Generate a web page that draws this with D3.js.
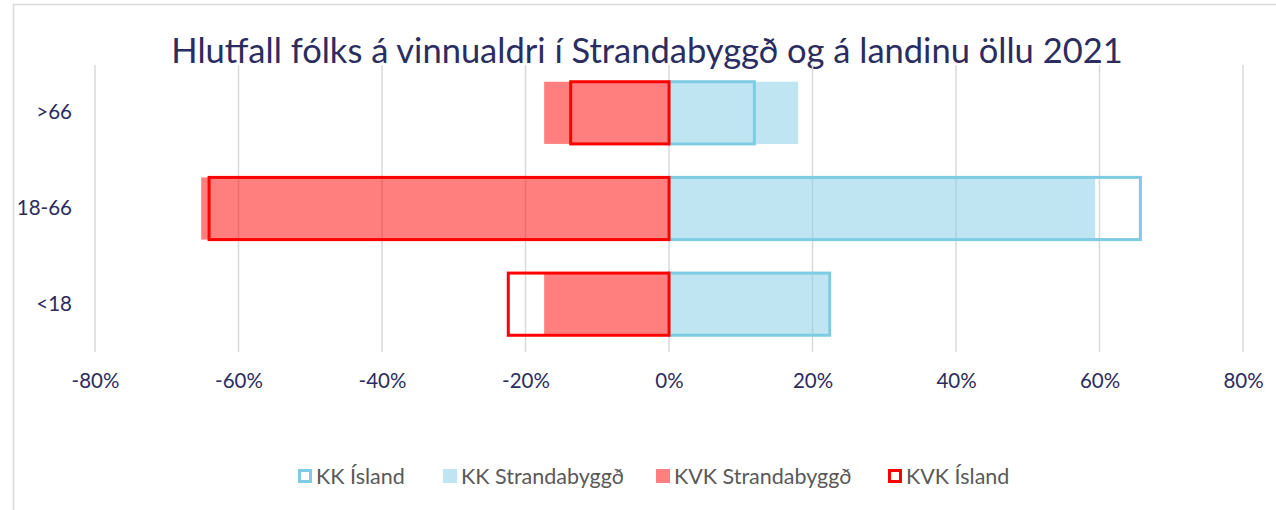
<!DOCTYPE html>
<html>
<head>
<meta charset="utf-8">
<script src="https://cdn.jsdelivr.net/npm/d3@7"></script>
<style>
  body { margin: 0; background: #fff; }
  svg { display: block; font-family: Lato, "Open Sans", sans-serif; }
</style>
</head>
<body>
<svg id="chart"></svg>
<script>
// age groups, top to bottom
const categories = [">66", "18-66", "<18"];
// shares, women negative so they go left
const kkIsland = [0.119, 0.657, 0.224];
const kkStrand = [0.180, 0.594, 0.223];
const kvkStrand = [-0.174, -0.652, -0.174];
const kvkIsland = [-0.137, -0.641, -0.224];
const tickValues = [-0.8, -0.6, -0.4, -0.2, 0, 0.2, 0.4, 0.6, 0.8];
const seriesNames = ["KK Ísland", "KK Strandabyggð", "KVK Strandabyggð", "KVK Ísland"];

const svgWidth = 1276, svgHeight = 510;
const margin = {top: 65, right: 33, bottom: 158, left: 95},
    width = svgWidth - margin.left - margin.right,
    height = svgHeight - margin.top - margin.bottom;

const blue = "#7ECCE3", red = "#FF0000";
const navy = "#2B2C60";

const chart = d3.select("#chart")
    .attr("width", svgWidth)
    .attr("height", svgHeight);

// chart frame
chart.append("rect")
    .attr("x", 13.5).attr("y", 4.5)
    .attr("width", svgWidth + 20).attr("height", svgHeight + 20)
    .attr("fill", "none")
    .attr("stroke", "#D9D9D9")
    .attr("stroke-width", 1.5);

chart.append("text")
    .attr("x", 647)
    .attr("y", 63)
    .attr("text-anchor", "middle")
    .attr("fill", navy)
    .style("font-size", "34.5px")
    .text("Hlutfall fólks á vinnualdri í Strandabyggð og á landinu öllu 2021");

const g = chart.append("g")
    .attr("transform", `translate(${margin.left},${margin.top})`);

const x = d3.scaleLinear().domain([-0.8, 0.8]).range([0, width]);
const y = d3.scaleBand().domain(categories).range([0, height])
    .paddingInner(0.35).paddingOuter(0.175);

// gridlines
g.append("g").selectAll("line")
    .data(tickValues)
    .enter().append("line")
    .attr("x1", d => x(d)).attr("x2", d => x(d))
    .attr("y1", 0).attr("y2", height)
    .attr("stroke", "#D9D9D9")
    .attr("stroke-width", 1.5);

const xAxis = d3.axisBottom(x).tickValues(tickValues)
    .tickFormat(d3.format(".0%")).tickSize(0).tickPadding(21);
const ax = g.append("g")
    .attr("transform", `translate(0,${height})`)
    .call(xAxis);
ax.select(".domain").remove();
ax.selectAll("text")
    .attr("fill", navy)
    .style("font-size", "20.5px")
    .style("font-family", "Lato, sans-serif")
    .text(d => d3.format(".0%")(d).replace("−", "-"));

const yAxis = d3.axisLeft(y).tickSize(0).tickPadding(23);
const ay = g.append("g").call(yAxis);
ay.select(".domain").remove();
ay.selectAll("text")
    .attr("fill", navy)
    .style("font-size", "20.5px")
    .style("font-family", "Lato, sans-serif");

function barX(v) { return Math.min(x(0), x(v)); }
function barW(v) { return Math.abs(x(v) - x(0)); }

// filled Strandabyggð bars
[[kkStrand, blue], [kvkStrand, red]].forEach(function(s) {
    g.append("g").selectAll("rect")
        .data(s[0])
        .enter().append("rect")
        .attr("x", d => barX(d))
        .attr("y", (d, i) => y(categories[i]))
        .attr("width", d => barW(d))
        .attr("height", y.bandwidth())
        .attr("fill", s[1])
        .attr("fill-opacity", 0.5);
});

// outlined Ísland bars
[[kkIsland, blue], [kvkIsland, red]].forEach(function(s) {
    g.append("g").selectAll("rect")
        .data(s[0])
        .enter().append("rect")
        .attr("x", d => barX(d))
        .attr("y", (d, i) => y(categories[i]))
        .attr("width", d => barW(d))
        .attr("height", y.bandwidth())
        .attr("fill", "none")
        .attr("stroke", s[1])
        .attr("stroke-width", 3);
});

// legend
const legendX = [298, 443, 656, 888];
const legendStyles = [
    {fill: "none", stroke: blue},
    {fill: blue, opacity: 0.5},
    {fill: red, opacity: 0.5},
    {fill: "none", stroke: red}
];
const legend = chart.append("g");
seriesNames.forEach(function(name, i) {
    const st = legendStyles[i];
    const item = legend.append("g").attr("transform", `translate(${legendX[i]},476)`);
    const r = item.append("rect")
        .attr("x", st.stroke ? 1.5 : 0).attr("y", st.stroke ? -5.5 : -7)
        .attr("width", st.stroke ? 11 : 14).attr("height", st.stroke ? 11 : 14)
        .attr("fill", st.fill);
    if (st.stroke) r.attr("stroke", st.stroke).attr("stroke-width", 3);
    if (st.opacity) r.attr("fill-opacity", st.opacity);
    item.append("text")
        .attr("x", 18)
        .attr("dy", "0.35em")
        .attr("fill", "#595959")
        .style("font-size", "21.5px")
        .text(name);
});
</script>
</body>
</html>
